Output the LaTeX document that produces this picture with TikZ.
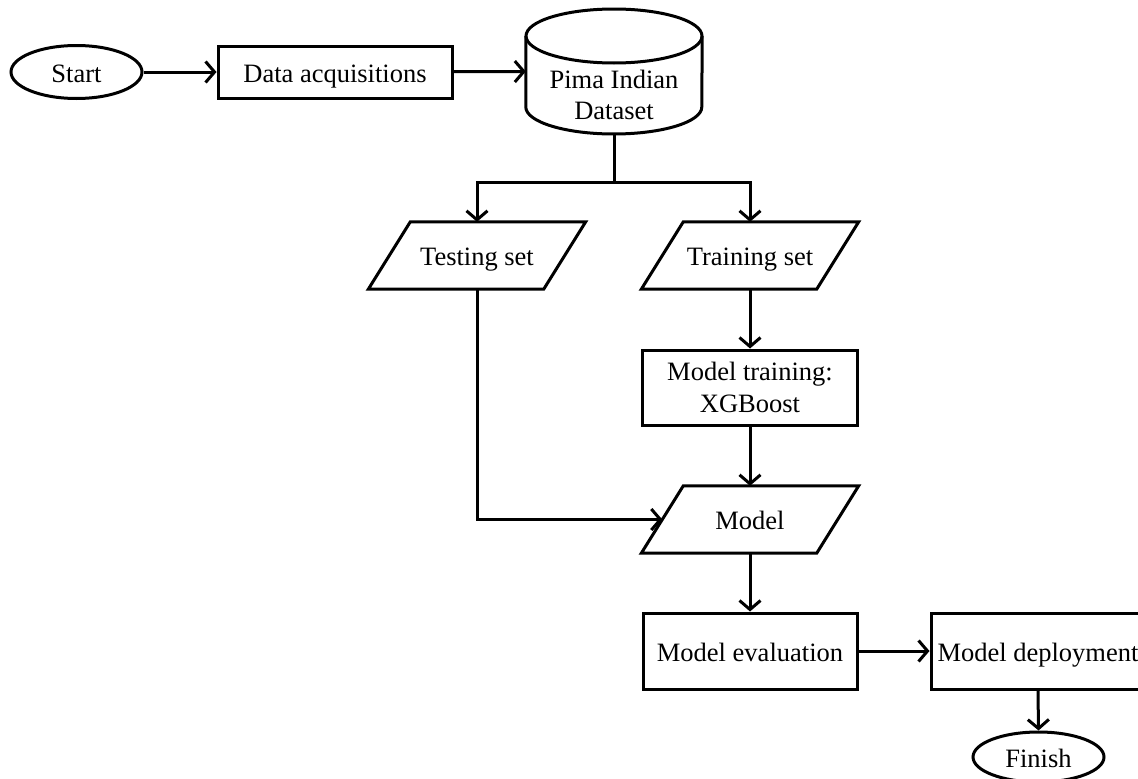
\documentclass[tikz,border=0pt]{standalone}
\usepackage{fontspec}
\setmainfont{Liberation Serif}
\usetikzlibrary{shapes.geometric,arrows.meta}
\begin{document}
\begin{tikzpicture}[x=1pt,y=-1pt,
  every node/.style={font=\fontsize{26.5}{31.5}\selectfont, align=center, inner sep=0pt},
  one/.style={text height=20pt, text depth=0pt},
  lw/.style={line width=3pt},
  box/.style={draw, lw, rectangle, minimum width=#1, minimum height=76},
  term/.style={draw, lw, ellipse, minimum width=131, minimum height=53, one},
  pgram/.style={rectangle, minimum width=175, minimum height=67, one},
  conn/.style={lw, -{Straight Barb[length=9pt,width=21pt,line width=3pt]}},
  line/.style={lw}
]
\useasboundingbox (0,0) rectangle (1138,779);

% nodes
\node[term] (start) at (76.5,72) {Start};
\node[draw, lw, minimum width=234, minimum height=52, one] (acq) at (335,72) {Data acquisitions};
\node[minimum width=176, minimum height=125] (db) at (614,71.5) {};
\node (dbtext) at (614,95) {Pima Indian\\Dataset};
\node[pgram] (test) at (477,255.5) {Testing set};
\node[pgram] (train) at (750,255.5) {Training set};
\node[box=215, minimum height=75] (xgb) at (750,387.5) {Model training:\\XGBoost};
\node[pgram] (model) at (750,519.5) {Model};
\node[box=214, one] (eval) at (750,651) {Model evaluation};
\node[box=214, one] (deploy) at (1038,651) {Model deployment};
\node[term, minimum height=50] (finish) at (1038.5,757) {Finish};

% cylinder outline
\draw[lw] (db.west |- 0,36) -- (db.west |- 0,107)
  arc[start angle=180, end angle=0, x radius=88, y radius=27]
  -- (db.east |- 0,36);
\draw[lw] (614,36) ellipse [x radius=88, y radius=27];

% parallelograms
\foreach \n in {test,train,model}{
  \draw[lw, line join=miter] ([xshift=21pt]\n.north west) -- ([xshift=21pt]\n.north east)
    -- ([xshift=-21pt]\n.south east) -- ([xshift=-21pt]\n.south west) -- cycle;
}

% connectors
\coordinate (junc) at (614,182);
\draw[conn] (start) -- (acq);
\draw[conn] (acq) -- (db.west);
\draw[line] (db.south) -- (junc);
\draw[conn] (junc) -| (test.north);
\draw[conn] (junc) -| (train.north);
\draw[conn] (train.south) -- (xgb.north);
\draw[conn] (xgb.south) -- (model.north);
\draw[conn] (test.south) |- (model.west);
\draw[conn] (model.south) -- (eval.north);
\draw[conn] (eval.east) -- (deploy.west);
\draw[conn] (deploy.south) -- (finish.north);
\end{tikzpicture}
\end{document}
